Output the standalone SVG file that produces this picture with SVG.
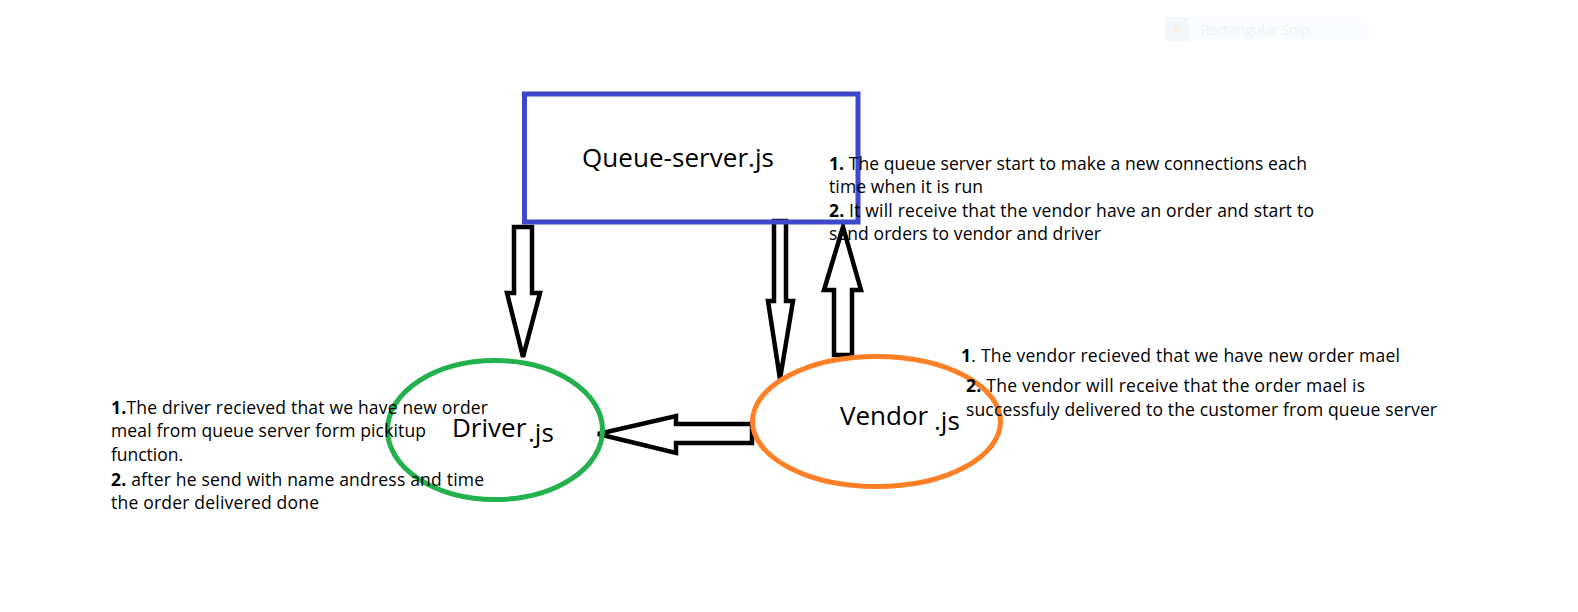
<svg xmlns="http://www.w3.org/2000/svg" width="1578" height="612" viewBox="0 0 1578 612">
<style>
text{font-family:"Open Sans","Noto Sans","Liberation Sans",sans-serif;fill:#000}
.lbl{font-size:26px}
.note text{font-size:17.5px}
.arrow{fill:#fff;stroke:#000;stroke-width:4.5;stroke-linejoin:miter}
.b{font-weight:bold}
</style>
<rect width="1578" height="612" fill="#fff"/>
<g id="snip-overlay">
<rect x="1165" y="17" width="202" height="24" fill="#fafcff"/>
<rect x="1165" y="17" width="24" height="24" fill="#f3f7fd"/>
<circle cx="1177" cy="29" r="3.5" fill="#fbeee4"/>
<text x="1200" y="35" textLength="110" style="font-size:15px;fill:#eff2f7">Rectangular Snip</text>
</g>
<g id="connectors">
<polygon class="arrow" points="514,227 532,227 532,293 540,293 523,357 507,293 514,293"/>
<polygon class="arrow" points="774,221 786,221 786,301 793,301 780,379 768,301 774,301"/>
<polygon class="arrow" points="834,355 852,355 852,290 861,290 843,227 824,290 834,290"/>
<polygon class="arrow" points="752,424 676,424 676,416 598,434 676,453 676,443 752,443"/>
</g>
<g id="queue-server">
<rect x="524.5" y="94" width="333.5" height="128" fill="none" stroke="#3f48cc" stroke-width="5"/>
<text class="lbl" x="582" y="167" textLength="192">Queue-server.js</text>
</g>
<g id="driver">
<ellipse cx="495" cy="430" rx="107.5" ry="69.5" fill="none" stroke="#22b14c" stroke-width="5"/>
<text class="lbl" x="452" y="437">Driver</text>
<text class="lbl" x="528" y="442">.js</text>
</g>
<g id="vendor">
<ellipse cx="876.5" cy="421.5" rx="124" ry="65" fill="none" stroke="#ff7f27" stroke-width="5"/>
<text class="lbl" x="840" y="425">Vendor</text>
<text class="lbl" x="934" y="430">.js</text>
</g>
<g id="queue-notes" class="note">
<text x="829" y="170" textLength="478"><tspan class="b">1.</tspan> The queue server start to make a new connections each</text>
<text x="829" y="193" textLength="154">time when it is run</text>
<text x="829" y="217" textLength="485"><tspan class="b">2.</tspan> It will receive that the vendor have an order and start to</text>
<text x="829" y="240" textLength="272">send orders to vendor and driver</text>
</g>
<g id="driver-notes" class="note">
<text x="111" y="414" textLength="377"><tspan class="b">1.</tspan>The driver recieved that we have new order</text>
<text x="111" y="437" textLength="315">meal from queue server form pickitup</text>
<text x="111" y="461" textLength="72">function.</text>
<text x="111" y="486" textLength="373"><tspan class="b">2.</tspan> after he send with name andress and time</text>
<text x="111" y="509" textLength="208">the order delivered done</text>
</g>
<g id="vendor-notes" class="note">
<text x="961" y="362" textLength="439"><tspan class="b">1</tspan>. The vendor recieved that we have new order mael</text>
<text x="966" y="392" textLength="399"><tspan class="b">2.</tspan> The vendor will receive that the order mael is</text>
<text x="966" y="416" textLength="471">successfuly delivered to the customer from queue server</text>
</g>
</svg>
